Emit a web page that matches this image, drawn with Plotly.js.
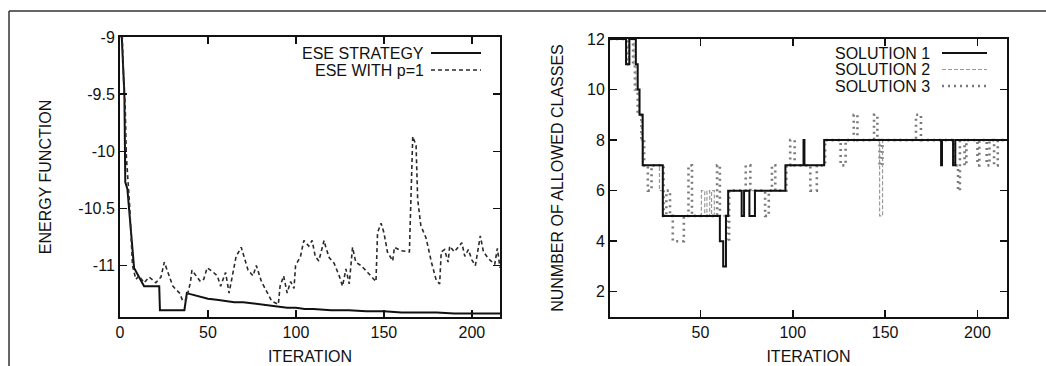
<!DOCTYPE html>
<html>
<head>
<meta charset="utf-8">
<script src="https://cdn.plot.ly/plotly-3.0.1.min.js"></script>
<style>
  html, body { margin: 0; padding: 0; background: #fff; }
  #chart { width: 1046px; height: 366px; }
</style>
</head>
<body>
<div id="chart"></div>
<script>
// ---------- Left panel: energy function ----------
const eseX = [1, 2.5, 3, 4.2, 8, 11, 13.7, 22.3, 22.7, 36.6, 38, 40, 45, 50, 55, 60, 65, 70, 75, 80, 85, 90, 95, 100, 105, 110, 120, 130, 140, 150, 160, 170, 180, 190, 200, 216];
const eseY = [-9.0, -9.5, -10.27, -10.33, -11.02, -11.1, -11.18, -11.18, -11.39, -11.39, -11.24, -11.25, -11.27, -11.29, -11.30, -11.31, -11.32, -11.32, -11.33, -11.34, -11.35, -11.36, -11.37, -11.37, -11.38, -11.38, -11.39, -11.39, -11.40, -11.40, -11.41, -11.41, -11.41, -11.42, -11.42, -11.42];

const p1X = [0.3, 1.3, 2.3, 2.9, 3.6, 4.8, 5.5, 6.3, 7.1, 9, 10.9, 13.7, 16.6, 20.4, 23.3, 25.2, 30, 33.8, 35.7, 37.6, 40, 40.9, 42.8, 45.7, 47.6, 49.5, 52.4, 55.3, 57.2, 60, 62, 64, 66, 68.9, 70.9, 72.8, 75.6, 77.5, 80.4, 83.3, 86.2, 90, 91, 93, 95, 97, 98.9, 99.8, 102.6, 104.5, 107.3, 109.2, 111, 113, 116, 117, 118.9, 121.7, 124.6, 126.5, 128.4, 130.3, 132.2, 134, 137, 140.8, 145.5, 146.4, 148.4, 150, 152, 155, 156, 159.7, 164.5, 166.4, 168.3, 169.2, 171, 174, 177, 179.8, 181.7, 182.6, 184.5, 186.5, 187.4, 190, 192, 194.3, 196, 198, 200, 202, 204.8, 206.6, 209.5, 213, 214.5, 216];
const p1Y = [-9.0, -9.0, -9.5, -9.57, -10.04, -10.30, -10.48, -10.74, -11.0, -11.12, -11.09, -11.15, -11.1, -11.15, -11.1, -10.97, -11.18, -11.24, -11.31, -11.30, -11.15, -11.04, -11.08, -11.14, -11.12, -11.02, -11.05, -11.09, -11.18, -11.06, -11.24, -11.09, -10.92, -10.84, -10.95, -11.04, -11.09, -11.0, -11.14, -11.23, -11.31, -11.34, -11.18, -11.09, -11.24, -11.14, -11.2, -11.0, -10.92, -10.78, -10.83, -10.78, -10.92, -10.96, -10.78, -10.84, -10.93, -10.98, -11.09, -11.18, -11.03, -11.16, -10.84, -10.97, -11.0, -11.06, -11.14, -10.71, -10.63, -10.71, -10.88, -10.96, -10.84, -10.87, -10.88, -9.87, -9.95, -10.42, -10.65, -10.76, -10.97, -11.13, -11.16, -10.88, -10.86, -10.97, -10.83, -10.88, -10.84, -10.80, -10.92, -10.86, -10.95, -11.0, -10.74, -10.88, -10.94, -10.99, -10.85, -11.02];

const leftXTicks = [0, 50, 100, 150, 200];
const leftYTicks = [-9, -9.5, -10, -10.5, -11];
const leftYTickText = ['-9', '-9.5', '-10', '-10.5', '-11'];

// ---------- Right panel: number of allowed classes (step series) ----------
const sol1X = [1, 9.7, 11.5, 15, 16, 17, 18.7, 29.6, 60.5, 62.3, 63.8, 65, 72.3, 73.6, 76.5, 79.5, 96, 105.8, 106.3, 117, 180.3, 180.8, 186.8, 188, 216];
const sol1Y = [12, 11, 12, 11, 10, 9, 7, 5, 4, 3, 5, 6, 5, 6, 5, 6, 7, 8, 7, 8, 7, 8, 7, 8, 8];

const sol2X = [1, 9.5, 11, 14, 15, 16.5, 18, 19, 27.8, 29.6, 50.5, 52.3, 53.5, 55, 56, 57.5, 65, 96, 117, 147, 148.6, 216];
const sol2Y = [12, 11, 12, 11, 10, 9, 8, 7, 6, 5, 6, 5, 6, 5, 6, 5, 6, 7, 8, 5, 8, 8];

const sol3X = [1, 10, 11.2, 13.5, 14.5, 16, 18, 19.5, 21.5, 23.5, 30, 31.5, 33.5, 35, 41, 43.5, 45.4, 59, 60.5, 64, 65.5, 74.5, 77, 85, 87, 88.7, 90.5, 96.5, 98.6, 101, 109.5, 113, 117.5, 125.9, 128.6, 133, 135, 144, 145.8, 147, 148.5, 166.7, 169.4, 187, 189.5, 190.5, 193, 194, 200, 201, 205, 206.5, 209, 211, 216];
const sol3Y = [12, 11, 12, 11, 10, 9, 8, 7, 6, 7, 5, 6, 5, 4, 5, 7, 5, 7, 5, 4, 6, 7, 6, 5, 6, 7, 6, 7, 8, 7, 6, 7, 8, 7, 8, 9, 8, 9, 8, 7, 8, 9, 8, 7, 6, 8, 7, 8, 7, 8, 7, 8, 7, 8, 8];

const rightXTicks = [50, 100, 150, 200];
const rightYTicks = [2, 4, 6, 8, 10, 12];

// ---------- Text ----------
const leftYTitle = 'ENERGY FUNCTION';
const rightYTitle = 'NUNMBER OF ALLOWED CLASSES';
const xTitle = 'ITERATION';
const leftNames = ['ESE STRATEGY', 'ESE WITH p=1'];
const rightNames = ['SOLUTION 1', 'SOLUTION 2', 'SOLUTION 3'];

// ---------- Styles ----------
const FONT = 'Liberation Sans, Arial, Helvetica, sans-serif';
const W = 1046, H = 366;
const px = v => v / W;
const py = v => 1 - v / H;

const styles = {
  ese: {color: '#111', width: 2, dash: 'solid'},
  p1: {color: '#2a2a2a', width: 1.6, dash: '4px,3px'},
  s1: {color: '#111', width: 2, dash: 'solid'},
  s2: {color: '#9a9a9a', width: 1.2, dash: '4px,2px'},
  s3: {color: '#7a7a7a', width: 2.6, dash: '2px,4px'}
};

const traces = [
  {x: eseX, y: eseY, type: 'scatter', mode: 'lines', name: leftNames[0], line: styles.ese, xaxis: 'x', yaxis: 'y'},
  {x: p1X, y: p1Y, type: 'scatter', mode: 'lines', name: leftNames[1], line: styles.p1, xaxis: 'x', yaxis: 'y'},
  {x: sol3X, y: sol3Y, type: 'scatter', mode: 'lines', name: rightNames[2], line: Object.assign({shape: 'hv'}, styles.s3), xaxis: 'x2', yaxis: 'y2'},
  {x: sol2X, y: sol2Y, type: 'scatter', mode: 'lines', name: rightNames[1], line: Object.assign({shape: 'hv'}, styles.s2), xaxis: 'x2', yaxis: 'y2'},
  {x: sol1X, y: sol1Y, type: 'scatter', mode: 'lines', name: rightNames[0], line: Object.assign({shape: 'hv'}, styles.s1), xaxis: 'x2', yaxis: 'y2'}
];

const axisCommon = {
  ticks: 'inside', ticklen: 7, tickwidth: 1.5, tickcolor: '#111',
  showline: true, linewidth: 2, linecolor: '#111', mirror: 'ticks',
  showgrid: false, zeroline: false,
  tickfont: {family: FONT, size: 16, color: '#111'}
};

const annotations = [];
const shapes = [
  // outer frame (top and left)
  {type: 'line', xref: 'paper', yref: 'paper', x0: px(9), x1: px(1046), y0: py(11), y1: py(11), line: {color: '#333', width: 1.5}},
  {type: 'line', xref: 'paper', yref: 'paper', x0: px(9), x1: px(9), y0: py(11), y1: py(366), line: {color: '#333', width: 1.5}}
];

function legendEntry(text, textRight, yc, x0, x1, st) {
  annotations.push({xref: 'paper', yref: 'paper', x: px(textRight), y: py(yc), xanchor: 'right', yanchor: 'middle',
    text: text, showarrow: false, font: {family: FONT, size: 16, color: '#111'}});
  shapes.push({type: 'line', xref: 'paper', yref: 'paper', x0: px(x0), x1: px(x1), y0: py(yc), y1: py(yc),
    line: {color: st.color, width: st.width, dash: st.dash}});
}
legendEntry(leftNames[0], 426, 53, 431, 481, styles.ese);
legendEntry(leftNames[1], 426, 70, 431, 481, styles.p1);
legendEntry(rightNames[0], 932, 53, 942, 987, styles.s1);
legendEntry(rightNames[1], 932, 69.5, 942, 987, styles.s2);
legendEntry(rightNames[2], 932, 86, 942, 987, styles.s3);

const layout = {
  width: W, height: H,
  margin: {l: 0, r: 0, t: 0, b: 0},
  paper_bgcolor: '#fff', plot_bgcolor: '#fff',
  showlegend: false,
  font: {family: FONT, size: 16, color: '#111'},
  xaxis: Object.assign({}, axisCommon, {
    domain: [px(120), px(500)], range: [0, 216], anchor: 'y',
    tickvals: leftXTicks,
    title: {text: xTitle, font: {family: FONT, size: 16, color: '#111'}, standoff: 11}
  }),
  yaxis: Object.assign({}, axisCommon, {
    domain: [py(317), py(37)], range: [-11.45, -9], anchor: 'x',
    tickvals: leftYTicks, ticktext: leftYTickText,
    title: {text: leftYTitle, font: {family: FONT, size: 16, color: '#111'}, standoff: 23}
  }),
  xaxis2: Object.assign({}, axisCommon, {
    domain: [px(610), px(1007)], range: [1, 216], anchor: 'y2',
    tickvals: rightXTicks,
    title: {text: xTitle, font: {family: FONT, size: 16, color: '#111'}, standoff: 11}
  }),
  yaxis2: Object.assign({}, axisCommon, {
    domain: [py(317), py(39)], range: [1, 12], anchor: 'x2',
    tickvals: rightYTicks,
    title: {text: rightYTitle, font: {family: FONT, size: 16, color: '#111'}, standoff: 19}
  }),
  annotations: annotations,
  shapes: shapes
};

Plotly.newPlot('chart', traces, layout, {staticPlot: true, displayModeBar: false});
</script>
</body>
</html>
